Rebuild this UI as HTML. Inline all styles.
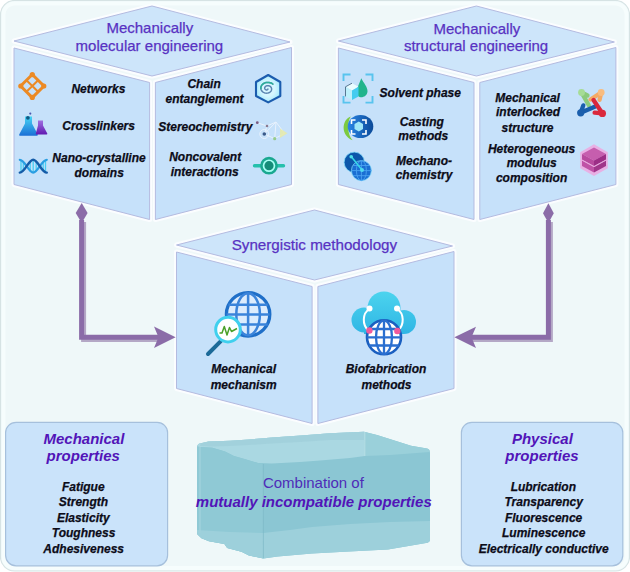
<!DOCTYPE html>
<html><head><meta charset="utf-8">
<style>
html,body{margin:0;padding:0;background:#ffffff;}
body{width:630px;height:572px;overflow:hidden;position:relative;}
svg{position:absolute;left:0;top:0;}
text{font-family:"Liberation Sans",sans-serif;}
.t{font-size:15px;fill:#5832c2;stroke:#5832c2;stroke-width:0.25px;}
.l{font-size:12px;font-weight:bold;font-style:italic;fill:#0c0c18;stroke:#0c0c18;stroke-width:0.25px;}
.h{font-size:15px;font-weight:bold;font-style:italic;fill:#5214b8;}
</style></head>
<body>
<svg width="630" height="572" viewBox="0 0 630 572">
<defs>
  <linearGradient id="water" x1="0" y1="0" x2="0" y2="1">
    <stop offset="0" stop-color="#9fd3de"/>
    <stop offset="1" stop-color="#86c4d2"/>
  </linearGradient>
</defs>
<!-- outer frame -->
<rect x="0.5" y="0.5" width="629" height="570.5" rx="14" fill="#eff8f9" stroke="#d6e3e4" stroke-width="1.2"/>
<rect x="3.5" y="3.5" width="623" height="564.5" rx="11" fill="none" stroke="#f6fdfd" stroke-width="4" opacity="0.9"/>

<!-- ============ CUBES ============ -->
<g id="cubeA">
  <g stroke="#fbfdff" stroke-width="5" stroke-linejoin="round" fill="#fbfdff">
    <path d="M14 41 L152 6 L290 42 L152 76 Z"/>
    <path d="M14 48 L149.6 82.5 L149.6 219.5 L14 184.5 Z"/>
    <path d="M155.4 82.5 L291.5 47.5 L291.5 184.5 L155.4 219.5 Z"/>
  </g>
  <path d="M14 41 L152 6 L290 42 L152 76 Z" fill="#cde5fa"/>
  <path d="M14 48 L149.6 82.5 L149.6 219.5 L14 184.5 Z" fill="#c6e1fa"/>
  <path d="M155.4 82.5 L291.5 47.5 L291.5 184.5 L155.4 219.5 Z" fill="#c6e1fa"/>
  <g stroke="#b4bbe0" stroke-width="1" fill="none" stroke-linejoin="round">
    <path d="M14 41 L152 6 L290 42 L152 76 Z"/>
    <path d="M14 48 L149.6 82.5 L149.6 219.5 L14 184.5 Z"/>
    <path d="M155.4 82.5 L291.5 47.5 L291.5 184.5 L155.4 219.5 Z"/>
  </g>
</g>
<use href="#cubeA" x="324.4" y="0"/>
<use href="#cubeA" x="162.5" y="204"/>

<!-- ============ ARROWS ============ -->
<g fill="none" stroke-linejoin="miter">
  <path d="M83.6 222 V339.5 H160" stroke="#b4a8c6" stroke-width="5"/>
  <path d="M81.6 220 V337.3 H160" stroke="#8b6ca8" stroke-width="5"/>
  <path d="M550.4 222 V339.5 H470" stroke="#b4a8c6" stroke-width="5"/>
  <path d="M548.4 220 V337.3 H470" stroke="#8b6ca8" stroke-width="5"/>
</g>
<g fill="#8b6ca8">
  <path d="M81.7 203 L87.6 213 L81.7 223 L75.7 213 Z"/>
  <path d="M548.4 203.3 L553.8 213.3 L548.4 223 L543 213.3 Z"/>
  <path d="M175.6 337.2 L154 326.4 L158.5 337.2 L154 348 Z"/>
  <path d="M454.4 337.2 L476 326.8 L471.5 337.2 L476 348 Z"/>
</g>


<!-- ============ ICONS ============ -->
<defs>
  <linearGradient id="gFlaskB" x1="0" y1="0" x2="0" y2="1">
    <stop offset="0" stop-color="#46d4f4"/><stop offset="1" stop-color="#1b6fd6"/>
  </linearGradient>
  <linearGradient id="gFlaskP" x1="0" y1="0" x2="0" y2="1">
    <stop offset="0" stop-color="#a070e0"/><stop offset="1" stop-color="#6018b0"/>
  </linearGradient>
  <linearGradient id="gCast" x1="0" y1="0" x2="1" y2="0">
    <stop offset="0" stop-color="#2a86e6"/><stop offset="1" stop-color="#0b4a98"/>
  </linearGradient>
  <linearGradient id="gCloud" gradientUnits="userSpaceOnUse" x1="0" y1="291" x2="0" y2="336">
    <stop offset="0" stop-color="#4cd4ee"/><stop offset="1" stop-color="#2eb4e4"/>
  </linearGradient>
  <linearGradient id="gPink" x1="0" y1="0" x2="0" y2="1">
    <stop offset="0" stop-color="#c85aaa"/><stop offset="1" stop-color="#a03486"/>
  </linearGradient>
</defs>

<!-- Networks -->
<g stroke="#ec8a24" fill="none" stroke-linejoin="round">
  <path d="M32.3 74.5 L44 86 L32.3 97.6 L20.6 86 Z" stroke-width="3"/>
  <path d="M26.45 80.25 L38.15 91.8 M38.15 80.25 L26.45 91.8" stroke-width="2"/>
</g>
<g fill="#ec8a24">
  <circle cx="32.3" cy="74.6" r="2.6"/><circle cx="32.3" cy="97.4" r="2.6"/>
  <circle cx="20.8" cy="86" r="2.6"/><circle cx="43.8" cy="86" r="2.6"/>
</g>

<!-- Flasks -->
<path d="M25 116.5 L32 116.5 L32 123.5 L37.8 134.5 Q38 135.8 36.8 135.8 L20 135.8 Q18.8 135.8 19.2 134.5 L25 123.5 Z" fill="url(#gFlaskB)"/>
<circle cx="27.9" cy="117.8" r="1.9" fill="#0f5a84"/>
<circle cx="30.3" cy="113.6" r="1.1" fill="#4a58b0"/>
<path d="M38 120.5 L43 120.5 L43 125.5 L47.3 133.6 Q47.6 134.6 46.5 134.6 L36.6 134.6 Q35.6 134.6 35.8 133.6 L38 125.5 Z" fill="url(#gFlaskP)"/>

<!-- DNA -->
<g fill="none" stroke-linecap="round">
  <g stroke="#48ccf2" stroke-width="1.3">
    <path d="M21 161 V171.5 M23.3 162 V170.5 M30.2 161.5 V171 M33.2 161 V171.5 M36.2 161.5 V171 M43.2 162 V170.5 M45.5 161 V171.5"/>
  </g>
  <path d="M19.8 159.8 C25 159.8 28.5 172.6 33.2 172.6 C38 172.6 41.5 159.8 46.8 159.8" stroke="#2a9ee2" stroke-width="2.2"/>
  <path d="M19.8 172.6 C25 172.6 28.5 159.8 33.2 159.8 C38 159.8 41.5 172.6 46.8 172.6" stroke="#145ca8" stroke-width="2.4"/>
</g>
<!-- Hex swirl -->
<defs><radialGradient id="gHex" cx="0.5" cy="0.5" r="0.55"><stop offset="0.5" stop-color="#d6f6ff"/><stop offset="1" stop-color="#9ee8fb"/></radialGradient></defs>
<path d="M268.2 75 L280.3 82 L280.3 96 L268.2 102.4 L256 96 L256 82 Z" fill="url(#gHex)" stroke="#1b5cae" stroke-width="2.1" stroke-linejoin="round"/>
<path d="M267.90 88.93 L267.91 89.05 L267.89 89.18 L267.84 89.32 L267.76 89.46 L267.64 89.58 L267.49 89.70 L267.31 89.80 L267.11 89.87 L266.88 89.92 L266.64 89.94 L266.38 89.93 L266.12 89.87 L265.86 89.79 L265.60 89.66 L265.37 89.49 L265.16 89.29 L264.98 89.06 L264.84 88.80 L264.74 88.51 L264.69 88.20 L264.70 87.88 L264.77 87.55 L264.89 87.23 L265.08 86.92 L265.33 86.62 L265.63 86.35 L265.98 86.12 L266.38 85.93 L266.82 85.78 L267.30 85.69 L267.79 85.66 L268.30 85.69 L268.81 85.78 L269.31 85.94 L269.79 86.17 L270.24 86.45 L270.64 86.80 L270.98 87.20 L271.26 87.65 L271.46 88.13 L271.59 88.65 L271.62 89.19 L271.56 89.73 L271.41 90.27 L271.17 90.80 L270.83 91.30 L270.40 91.77 L269.89 92.18 L269.31 92.54 L268.66 92.82 L267.96 93.03 L267.21 93.15 L266.45 93.18 L265.67 93.11 L264.90 92.95 L264.16 92.70 L263.45 92.35 L262.80 91.91 L262.23 91.39 L261.73 90.80 L261.34 90.15 L261.05 89.44 L260.89 88.70 L260.85 87.93 L260.94 87.16 L261.16 86.39 L261.51 85.65 L261.99 84.95 L262.58 84.31 L263.29 83.74 L264.10 83.25 L264.99 82.87 L265.95 82.58 L266.95 82.42 L267.99 82.38 L269.03 82.46 L270.07 82.67 L271.06 83.01 L272.01 83.47 L272.87 84.05" fill="none" stroke="#5a84b0" stroke-width="1.45" stroke-linecap="round"/>
<path d="M260.89 88.70 L260.85 87.93 L260.94 87.16 L261.16 86.39 L261.51 85.65 L261.99 84.95 L262.58 84.31 L263.29 83.74 L264.10 83.25 L264.99 82.87 L265.95 82.58 L266.95 82.42 L267.99 82.38 L269.03 82.46 L270.07 82.67 L271.06 83.01 L272.01 83.47 L272.87 84.05" fill="none" stroke="#2ab09a" stroke-width="1.5" stroke-linecap="round"/>

<!-- Stereo -->
<g stroke="#f4f8ff" stroke-width="1" fill="none" opacity="0.75">
  <path d="M257.3 122.7 L267 126 L264.3 134 L274.7 138.7 L284.5 133.3 L276 122 L267 126 M264.3 134 L276 122 M274.7 138.7 L276 122"/>
  <circle cx="264.3" cy="134" r="4.5"/>
</g>
<path d="M280 128.5 L287.5 133.3 L280 138 Z" fill="#e6eaa8" opacity="0.85"/>
<circle cx="257.3" cy="122.7" r="1.4" fill="#7a5a80"/>
<circle cx="267" cy="126" r="1.3" fill="#8a7a90"/>
<circle cx="264.3" cy="134" r="1.8" fill="#3a5a8a"/>
<circle cx="274.7" cy="138.7" r="1.6" fill="#90c880" opacity="0.9"/>

<!-- Noncovalent -->
<g>
  <path d="M254.5 165.7 H262.5 M275.5 165.7 H283.5" stroke="#26c0ac" stroke-width="3.4" stroke-linecap="round"/>
  <circle cx="269" cy="165.7" r="7.6" fill="#a8fff4" stroke="#1aa890" stroke-width="2.6"/>
  <circle cx="269" cy="165.7" r="4.6" fill="#148c78"/>
</g>

<!-- Solvent phase -->
<g stroke="#58c4ee" stroke-width="1.9" fill="none">
  <path d="M343.5 81 V74.5 H350.5 M365.5 74.5 H372.5 V81 M343.5 96 V102.6 H350.5 M365.5 102.6 H372.5 V96"/>
</g>
<path d="M361.3 78.3 C363.5 83 367.8 87 367.5 91.5 C367.2 95.5 363.5 97.6 360.5 97.2 C357.5 96.8 356 93 356.5 90 Z" fill="#20b48c"/>
<g stroke-linejoin="round">
  <path d="M345.5 86.8 L352 83.2 L358.5 86.8 L352 90.4 Z" fill="#eafcff"/>
  <path d="M345.5 86.8 L352 90.4 L352 100 L345.5 96.4 Z" fill="#bdf0fb"/>
  <path d="M358.5 86.8 L352 90.4 L352 100 L358.5 96.4 Z" fill="#44ccf0"/>
  <path d="M345.5 96.4 L345.5 86.8 L352 83.2" fill="none" stroke="#3a5a78" stroke-width="0.8"/>
</g>

<!-- Casting -->
<path d="M350.8 116.4 C341.5 119.5 340.5 135.5 352.6 140.2 C347.6 135 346.6 122.5 350.8 116.4 Z" fill="#7cca40"/>
<ellipse cx="360.5" cy="126.5" rx="12.8" ry="11.5" fill="url(#gCast)"/>
<g stroke="#ffffff" stroke-width="1.6" fill="none">
  <path d="M351.5 124 V120 H355.5 M362 120 H366 V124 M351.5 130 V134 H355.5 M362 134 H366 V130"/>
</g>
<path d="M358.8 121.5 L363 124 L363 129 L358.8 131.5 L354.5 129 L354.5 124 Z" fill="#9fe6f8"/>

<!-- Mechano -->
<circle cx="354.3" cy="162.3" r="10.2" fill="#0c56aa" stroke="#7fd6f6" stroke-width="0.8"/>
<circle cx="361.4" cy="170.6" r="10" fill="#1a6ed2" stroke="#7fd6f6" stroke-width="0.8"/>
<g stroke="#4aa2f0" stroke-width="0.9" fill="none">
  <path d="M351.5 170.6 H371.4 M353 165.5 H369.8 M353 175.7 H369.8 M361.4 160.6 V180.6"/>
  <ellipse cx="361.4" cy="170.6" rx="5" ry="10"/>
</g>
<path d="M351.2 156.5 L362 170" stroke="#38d8e8" stroke-width="1.5"/>
<circle cx="351.2" cy="156.7" r="1.8" fill="#50e0e8"/>
<circle cx="362" cy="170" r="2" fill="#50d8f0"/>

<!-- Joomla -->
<g stroke-linecap="round" stroke-linejoin="round" fill="none" stroke-width="4.3">
  <path d="M587.5 95.5 L581.5 92.5 L588.8 105.2" stroke="#8cca7c"/>
  <path d="M599.6 99.8 L601.2 92.5 L590.5 99.5" stroke="#f4aa66"/>
  <path d="M583.3 105.4 L580.7 112.8 L595.3 106.6" stroke="#1a5eac"/>
  <path d="M593.5 100 L602.4 113.4 L594.6 112.6" stroke="#da283c"/>
</g>
<circle cx="581.5" cy="92.5" r="3.4" fill="#a6dc96"/>
<circle cx="601.2" cy="92.5" r="3.4" fill="#f8bc80"/>
<circle cx="580.7" cy="112.8" r="3.6" fill="#1a5eac"/>
<circle cx="602.4" cy="113.4" r="3.6" fill="#da283c"/>

<!-- Pink stack -->
<path d="M594 144.3 L607.8 152.3 L607.8 168.3 L594 175.9 L580.2 168.3 L580.2 152.3 Z" fill="#e8b0e4"/>
<path d="M594 147.5 L606 154 L594 160.5 L582 154 Z" fill="#c65eae"/>
<path d="M582 154 L594 160.5 L594 166 L582 159.5 Z" fill="#b84a9e"/>
<path d="M606 154 L594 160.5 L594 166 L606 159.5 Z" fill="#9c2e86"/>
<path d="M582 160.5 L594 167 L594 172.5 L582 166 Z" fill="#c052a6"/>
<path d="M606 160.5 L594 167 L594 172.5 L606 166 Z" fill="#a0368a"/>
<path d="M582 160.2 L594 166.7 L606 160.2" stroke="#e9a8dc" stroke-width="0.8" fill="none"/>

<!-- Globe + magnifier -->
<circle cx="248.1" cy="314.3" r="21.7" fill="#dcecfd" stroke="#1f6fc8" stroke-width="3.3"/>
<g stroke="#3b84da" stroke-width="2.5" fill="none">
  <path d="M248.1 293 V335.6 M226.6 314.4 H269.6 M228.5 304.8 H267.7 M228.5 324.4 H267.7"/>
  <ellipse cx="248.1" cy="314.3" rx="11.8" ry="21"/>
</g>
<path d="M220.8 341.2 L208 354" stroke="#1c6a98" stroke-width="4" stroke-linecap="round"/>
<circle cx="228" cy="329.6" r="12.3" fill="#ffffff" stroke="#40d0ee" stroke-width="3"/>
<path d="M219.5 333 L222 333 L224.3 326.5 L227 335 L229.5 327.5 L231.5 331.5 L237 328.5" fill="none" stroke="#4aa028" stroke-width="1.5" stroke-linejoin="round"/>

<!-- Cloud + globe -->
<g fill="url(#gCloud)">
  <circle cx="384" cy="308" r="16.5"/>
  <circle cx="364" cy="320" r="12.5"/>
  <circle cx="404" cy="322" r="12"/>
  <rect x="364" y="312" width="40" height="22"/>
</g>
<g stroke="#ffffff" stroke-width="2" fill="none">
  <path d="M369.5 309 C362.5 313 361.5 325 369 331"/>
  <path d="M397 309 C404 313 405 325 397.5 331"/>
</g>
<circle cx="369.5" cy="308.5" r="3" fill="#ffffff"/>
<circle cx="397" cy="308.5" r="3" fill="#ffffff"/>
<circle cx="384" cy="337.3" r="17" fill="#ffffff" stroke="#1a5fc0" stroke-width="2.6"/>
<g stroke="#2a6fd0" stroke-width="2.3" fill="none">
  <path d="M384 320.5 V354 M367.2 337.3 H400.8 M369 329 H399 M369 345.5 H399"/>
  <ellipse cx="384" cy="337.3" rx="8" ry="16.6"/>
</g>
<circle cx="369.4" cy="330.5" r="3.2" fill="#f05a9c"/>
<circle cx="397.3" cy="331" r="3.2" fill="#f05a9c"/>

<!-- ============ TITLES ============ -->
<text class="t" x="149.8" y="33.4" text-anchor="middle">Mechanically</text>
<text class="t" x="149.4" y="51.2" text-anchor="middle">molecular engineering</text>
<text class="t" x="476.9" y="33.6" text-anchor="middle">Mechanically</text>
<text class="t" x="476.1" y="51.3" text-anchor="middle">structural engineering</text>
<text class="t" x="314.4" y="249.6" text-anchor="middle" style="font-size:15.2px">Synergistic methodology</text>

<!-- ============ LABELS ============ -->
<text class="l" x="98.4" y="93.4" text-anchor="middle">Networks</text>
<text class="l" x="98.6" y="130.2" text-anchor="middle">Crosslinkers</text>
<text class="l" x="99" y="162.3" text-anchor="middle">Nano-crystalline</text>
<text class="l" x="99.2" y="176.5" text-anchor="middle">domains</text>

<text class="l" x="204.1" y="88.2" text-anchor="middle">Chain</text>
<text class="l" x="204.6" y="103" text-anchor="middle">entanglement</text>
<text class="l" x="205.3" y="131" text-anchor="middle">Stereochemistry</text>
<text class="l" x="205.2" y="161.4" text-anchor="middle">Noncovalent</text>
<text class="l" x="204.7" y="176.4" text-anchor="middle">interactions</text>

<text class="l" x="420.3" y="96.7" text-anchor="middle">Solvent phase</text>
<text class="l" x="421.8" y="126" text-anchor="middle">Casting</text>
<text class="l" x="423.3" y="139.5" text-anchor="middle">methods</text>
<text class="l" x="424" y="164.7" text-anchor="middle">Mechano-</text>
<text class="l" x="424" y="178.7" text-anchor="middle">chemistry</text>

<text class="l" x="527.6" y="102.3" text-anchor="middle">Mechanical</text>
<text class="l" x="528" y="116.3" text-anchor="middle">interlocked</text>
<text class="l" x="527.5" y="131.9" text-anchor="middle">structure</text>
<text class="l" x="531.6" y="152.7" text-anchor="middle">Heterogeneous</text>
<text class="l" x="531.7" y="166.8" text-anchor="middle">modulus</text>
<text class="l" x="531.6" y="181.7" text-anchor="middle">composition</text>

<text class="l" x="243.7" y="373.1" text-anchor="middle">Mechanical</text>
<text class="l" x="243.7" y="388.5" text-anchor="middle">mechanism</text>
<text class="l" x="386" y="373.1" text-anchor="middle">Biofabrication</text>
<text class="l" x="386.5" y="388.5" text-anchor="middle">methods</text>

<!-- ============ BOTTOM BOXES ============ -->
<rect x="5.6" y="422.3" width="162" height="143.5" rx="10.5" fill="#cae3fa" stroke="#a6c0dc" stroke-width="1.2"/>
<rect x="461.4" y="422.3" width="161.4" height="143.5" rx="10.5" fill="#cae3fa" stroke="#a6c0dc" stroke-width="1.2"/>

<text class="h" x="83.9" y="443.5" text-anchor="middle">Mechanical</text>
<text class="h" x="83.3" y="460.5" text-anchor="middle">properties</text>
<text class="l" x="83.3" y="490.6" text-anchor="middle">Fatigue</text>
<text class="l" x="83.4" y="506.1" text-anchor="middle">Strength</text>
<text class="l" x="83.3" y="521.8" text-anchor="middle">Elasticity</text>
<text class="l" x="83.6" y="537.3" text-anchor="middle">Toughness</text>
<text class="l" x="83.7" y="552.7" text-anchor="middle">Adhesiveness</text>

<text class="h" x="542.4" y="443.5" text-anchor="middle">Physical</text>
<text class="h" x="542" y="460.5" text-anchor="middle">properties</text>
<text class="l" x="543.3" y="490.6" text-anchor="middle">Lubrication</text>
<text class="l" x="543.7" y="506.1" text-anchor="middle">Transparency</text>
<text class="l" x="543.6" y="521.8" text-anchor="middle">Fluorescence</text>
<text class="l" x="543.7" y="537.3" text-anchor="middle">Luminescence</text>
<text class="l" x="543.7" y="552.7" text-anchor="middle">Electrically conductive</text>

<!-- ============ WATER BLOCK ============ -->
<g>
  <path d="M197.1 446.5 Q197.5 443.5 200.9 443.3 L208.5 441.4 L230 440.8 L249 439.5 L272 437.6 L301 435.6 L330 433.3 L364 431.8 L377 435 L396 441 L411 445.7 L427 448.6 Q430 449.5 430 453 L430 540 Q429.5 542.5 426 543 L388 549.6 L349 551.6 L312 553.6 L277.7 556.4 L263.4 558.5 L249 555.5 L241.5 551.7 L227.2 547.9 L224.4 544 L209 541.2 L201.5 538.3 L197.5 534.5 Q197 533.5 197 531 Z" fill="#8bc6d3"/>
  <path d="M197.1 446.5 Q197.5 443.5 200.9 443.3 L208.5 441.4 L230 440.8 L249 439.5 L272 437.6 L301 435.6 L330 433.3 L364 431.8 L364.8 456 L350 458 L320 460.5 L300 462 L272 463.5 L258 463 L245.3 459.2 L233.9 456 L225 451.6 L212.3 447.8 L200 447 Z" fill="#aad8e2"/>
  <path d="M200.9 443.3 L208.5 441.4 L230 440.8 L249 439.5 L272 437.6 L301 435.6 L330 433.3 L364 431.8 L364.5 440 L330 440 L300 442 L272 443.5 L249 445 L230 446 L212 446.5 L200 446 Z" fill="#a0d0db" opacity="0.8"/>
  <path d="M364 431.8 L377 435 L396 441 L411 445.7 L427 448.6 Q430 449.5 429.8 452 L390 455 L364.8 456 Z" fill="#9ad0da"/>
  <path d="M197.1 446.5 L200 447 L212.3 447.8 L225 451.6 L233.9 456 L245.3 459.2 L258 463 L263.2 463.3 L263.4 558.5 L249 555.5 L241.5 551.7 L227.2 547.9 L224.4 544 L209 541.2 L201.5 538.3 L197.5 534.5 Q197 533.5 197 531 Z" fill="#8fc9d5"/>
  <path d="M197 530 L230 532 L263 533 L290 530 L312 527 L350 524 L390 522 L430 521 L430 540 Q429.5 542.5 426 543 L388 549.6 L349 551.6 L312 553.6 L277.7 556.4 L263.4 558.5 L249 555.5 L241.5 551.7 L227.2 547.9 L224.4 544 L209 541.2 L201.5 538.3 L197.5 534.5 Q197 533.5 197 531 Z" fill="#9dd0db"/>
  <path d="M200 447 L200 533" stroke="#9fd2dc" stroke-width="2" fill="none" opacity="0.7"/>
  <path d="M263.3 464 L263.4 558" stroke="#7ab6c4" stroke-width="0.8" fill="none" opacity="0.8"/>
  <path d="M364.8 432 L364.8 456" stroke="#c0e4ea" stroke-width="0.8" fill="none"/>
</g>
<text x="313.4" y="488" text-anchor="middle" style="font-size:15px;fill:#4e2cb8">Combination of</text>
<text x="313.8" y="507.2" text-anchor="middle" class="h">mutually incompatible properties</text>

</svg>
</body></html>
